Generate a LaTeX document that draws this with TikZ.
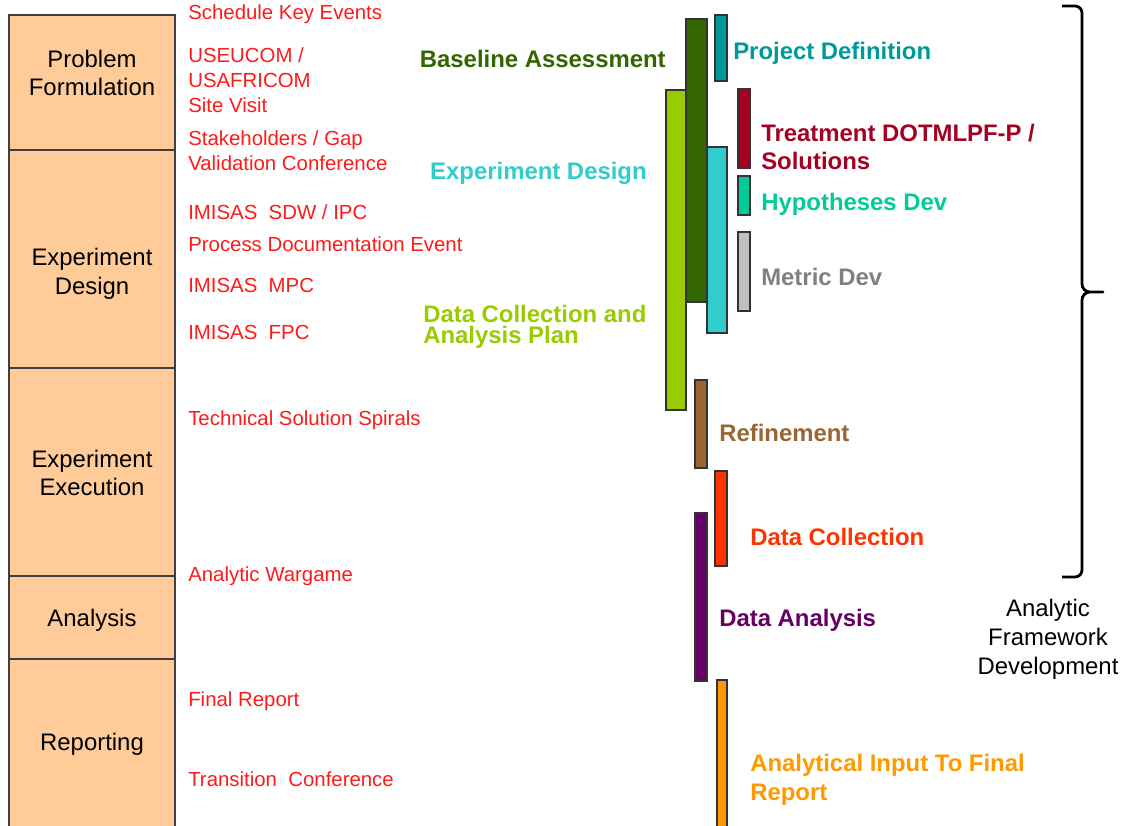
\documentclass[tikz,border=0pt]{standalone}
\usepackage{fontspec}
\setmainfont{Liberation Sans}
\usepackage{tikz}
\usepackage{xcolor}

\definecolor{peach}{HTML}{FFCC99}
\definecolor{eventred}{HTML}{FF1A1A}
\definecolor{baseg}{HTML}{336600}
\definecolor{projteal}{HTML}{009999}
\definecolor{plang}{HTML}{99CC00}
\definecolor{designc}{HTML}{33CCCC}
\definecolor{treatr}{HTML}{A50021}
\definecolor{hypog}{HTML}{00CC99}
\definecolor{metricbar}{HTML}{C0C0C0}
\definecolor{metrictxt}{HTML}{808080}
\definecolor{refineb}{HTML}{996633}
\definecolor{collecto}{HTML}{FF3300}
\definecolor{analysp}{HTML}{660066}
\definecolor{reporto}{HTML}{FF9900}

\begin{document}
\begin{tikzpicture}[x=0.025cm, y=-0.025cm,
    stagebox/.style={draw=black!75, line width=0.9pt, fill=peach},
    stage/.style={align=center, inner sep=0pt, font=\fontsize{17}{20.5}\selectfont},
    event/.style={text=eventred, anchor=west, align=left, inner sep=0pt, font=\fontsize{14.5}{17.7}\selectfont},
    barbox/.style={draw=black!80, line width=0.8pt},
    phase/.style={anchor=west, align=left, inner sep=0pt, font=\fontsize{17}{20.5}\selectfont\bfseries}]
    \clip (0,0) rectangle (1134,825);
    \fill[white] (0,0) rectangle (1134,825);

    % Stage column
    \draw[stagebox] (9,15) rectangle (175,150);
    \draw[stagebox] (9,150) rectangle (175,368);
    \draw[stagebox] (9,368) rectangle (175,576);
    \draw[stagebox] (9,576) rectangle (175,659);
    \draw[stagebox] (9,659) rectangle (175,840);
    \node[stage] (pf) at (92,73) {Problem\\Formulation};
    \node[stage] (ed) at (92,274) {Experiment\\Design};
    \node[stage] (ee) at (92,473) {Experiment\\Execution};
    \node[stage] (an) at (92,620) {Analysis};
    \node[stage] (rp) at (92,744) {Reporting};

    % Key events
    \node[event] (ske) at (188,14) {Schedule Key Events};
    \node[event] (site) at (188,80) {USEUCOM /\\USAFRICOM\\Site Visit};
    \node[event] (gap) at (188,151) {Stakeholders / Gap\\Validation Conference};
    \node[event] (sdw) at (188,212) {IMISAS\ \ SDW / IPC};
    \node[event] (pde) at (188,244) {Process Documentation Event};
    \node[event] (mpc) at (188,285) {IMISAS\ \ MPC};
    \node[event] (fpc) at (188,332) {IMISAS\ \ FPC};
    \node[event] (tss) at (188,420) {Technical Solution Spirals};
    \node[event] (awg) at (188,576) {Analytic Wargame};
    \node[event] (frep) at (188,701) {Final Report};
    \node[event] (tcon) at (188,779) {Transition\ \ Conference};

    % Bars
    \draw[barbox, fill=plang] (666,90) rectangle (686,410);
    \draw[barbox, fill=baseg] (686,19) rectangle (707,302);
    \draw[barbox, fill=projteal] (715,15) rectangle (727,81);
    \draw[barbox, fill=designc] (707,147) rectangle (727,333);
    \draw[barbox, fill=treatr] (738,89) rectangle (750,168);
    \draw[barbox, fill=hypog] (738,176) rectangle (750,215);
    \draw[barbox, fill=metricbar] (738,232) rectangle (750,311);
    \draw[barbox, fill=refineb] (695,380) rectangle (707,468);
    \draw[barbox, fill=collecto] (715,471) rectangle (727,566);
    \draw[barbox, fill=analysp] (695,513) rectangle (707,681);
    \draw[barbox, fill=reporto] (717,680) rectangle (727,830);

    % Phase labels
    \node[phase, anchor=east, text=baseg] (base) at (666,59) {Baseline Assessment};
    \node[phase, anchor=east, text=designc] (design) at (647,173) {Experiment Design};
    \node[phase, text=plang, font=\fontsize{17}{14.8}\selectfont\bfseries] (plan) at (423,327) {Data Collection and\\Analysis Plan};
    \node[phase, text=projteal] (proj) at (733,53) {Project Definition};
    \node[phase, text=treatr] (treat) at (761,147) {Treatment DOTMLPF-P /\\Solutions};
    \node[phase, text=hypog] (hypo) at (761,204) {Hypotheses Dev};
    \node[phase, text=metrictxt] (metric) at (761,277) {Metric Dev};
    \node[phase, text=refineb] (refine) at (719,433) {Refinement};
    \node[phase, text=collecto] (collect) at (750,537) {Data Collection};
    \node[phase, text=analysp] (analysis) at (719,620) {Data Analysis};
    \node[phase, text=reporto] (input) at (750,780) {Analytical Input To Final\\Report};

    % Brace
    \draw[line width=2pt, line join=round] (1062,6) -- (1075,6) to[out=0,in=90] (1082,13)
        -- (1082,284) to[out=-90,in=180] (1090,292) -- (1103,292) -- (1090,292)
        to[out=180,in=90] (1082,300) -- (1082,570) to[out=-90,in=0] (1075,577) -- (1062,577);
    \node[stage] (afd) at (1048,639) {Analytic\\Framework\\Development};
\end{tikzpicture}
\end{document}
